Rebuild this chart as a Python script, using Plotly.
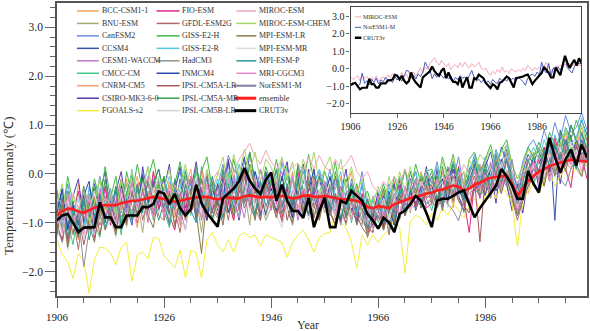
import plotly.graph_objects as go

years = list(range(1906, 2006))

# ---------------- data (one row per decade, 1906-2005) ----------------
bcc_csm1_1 = [
    -0.30,-1.20,-0.55,-1.05,-0.20,-0.95,-0.45,-1.30,-0.60,-0.15,
    -0.95,-0.25,-0.80,-0.10,-0.65,-1.10,-0.30,-0.70,0.05,-0.50,
    -0.85,-0.15,-0.60,-1.05,-0.30,0.10,-0.75,-0.40,-0.95,-0.20,
    -0.70,0.05,-0.50,-0.95,-0.15,-0.60,0.20,-0.35,-0.80,-0.10,
    -0.60,-0.05,-0.85,-0.30,-1.00,-0.20,0.15,-0.55,-0.25,-0.75,
    -0.15,-0.80,-0.40,-1.00,-0.30,0.05,-0.95,-0.55,-1.15,-0.45,
    -0.90,-0.35,-1.05,-0.60,-0.10,-0.80,-0.25,-0.70,-0.30,0.00,
    -0.65,0.10,-0.45,-0.05,-0.70,0.15,-0.50,-0.20,0.20,-0.35,
    0.25,-0.40,0.10,-0.30,0.40,-0.25,-0.70,-0.05,0.30,0.45,
    -0.10,0.55,0.15,0.70,0.05,0.85,0.30,0.60,0.95,0.40]
bnu_esm = [
    -1.25,-0.50,-1.40,-0.85,-0.35,-1.10,-0.70,-1.35,-0.40,-0.95,
    -0.40,-1.15,-0.70,-0.20,-0.90,-0.55,-1.20,-0.35,-0.75,-0.10,
    -0.95,-0.40,-1.10,-0.60,-0.05,-0.80,-0.45,-1.20,-0.30,-0.70,
    -0.20,-0.90,-0.40,0.10,-0.75,-0.30,-1.05,-0.15,-0.60,-0.95,
    -0.70,-0.25,-1.00,-0.45,0.05,-0.85,-0.40,-0.10,-0.90,-0.35,
    -0.80,-0.30,-0.05,-0.75,-1.05,-0.40,-0.70,-1.00,-0.55,-1.20,
    -0.45,-1.10,-0.70,-0.25,-0.95,-0.30,-0.80,-0.10,-0.65,-0.40,
    -0.05,-0.70,-0.35,0.10,-0.60,-0.20,0.05,-0.75,-0.30,0.15,
    -0.45,0.20,-0.30,0.30,-0.20,-0.60,-0.15,-0.50,0.15,-0.25,
    0.40,-0.15,0.50,0.00,0.65,0.20,0.75,0.10,-0.05,0.55]
canesm2 = [
    -0.40,-0.95,-0.20,-0.75,-0.50,-1.10,-0.30,-0.65,-0.05,-0.55,
    -0.30,-0.80,-0.15,-0.60,0.00,-0.90,-0.35,-0.70,-0.10,-0.45,
    -0.10,-0.65,-0.30,0.05,-0.55,-0.20,-0.80,0.15,-0.40,-0.70,
    -0.25,0.20,-0.55,-0.05,-0.70,0.30,-0.30,-0.60,0.10,-0.40,
    -0.05,-0.60,0.25,-0.30,-0.75,-0.10,0.20,-0.50,-0.20,0.05,
    -0.35,0.10,-0.60,-0.25,-0.85,-0.10,-0.50,0.05,-0.70,-0.95,
    -0.40,-0.85,-0.20,-0.65,-0.30,0.10,-0.55,-0.15,-0.70,0.05,
    -0.20,0.25,-0.40,0.15,-0.15,0.35,-0.30,0.00,0.40,-0.10,
    0.35,-0.05,0.50,0.20,0.60,0.05,-0.30,0.25,0.55,0.70,
    0.45,0.90,0.55,1.05,0.70,1.20,0.85,0.95,1.25,0.90]
ccsm4 = [
    -0.80,-0.30,-1.10,-0.55,-1.25,-0.45,-0.90,-0.20,-0.70,-1.00,
    -0.45,-0.95,-0.15,-0.65,-1.05,-0.35,0.00,-0.75,-0.25,-0.60,
    -0.05,-0.80,-0.35,0.15,-0.70,-0.30,-0.95,-0.10,-0.60,-0.25,
    -0.75,-0.20,0.25,-0.60,-0.10,0.35,-0.45,-0.20,-0.85,0.00,
    -0.40,0.10,-0.70,-0.30,-0.90,-0.15,0.20,-0.60,-0.25,-0.85,
    -0.20,-0.70,-0.05,-0.55,-0.95,-0.30,-0.75,-0.20,-1.00,-0.65,
    -0.50,-1.05,-0.35,-0.80,-0.15,-0.65,-0.25,0.05,-0.60,-0.20,
    0.05,-0.55,-0.15,-0.40,0.25,-0.25,-0.60,0.10,0.30,-0.20,
    0.15,0.45,-0.05,0.55,0.25,-0.20,-0.55,0.05,0.40,0.20,
    0.55,0.25,0.75,-0.95,0.90,0.60,1.00,0.70,1.10,0.80]
cesm1_waccm = [
    -1.05,-1.40,-0.65,-1.20,-0.85,-0.35,-1.10,-0.55,-0.95,-0.30,
    -0.90,-0.40,-1.15,-0.60,-0.20,-0.85,-0.35,-1.00,-0.15,-0.70,
    -0.55,-1.00,-0.30,-0.75,-1.15,-0.40,-0.10,-0.70,0.05,-0.60,
    -0.85,-0.30,-0.65,-0.05,-0.50,-0.90,-0.20,-0.60,0.10,-0.45,
    -0.75,-0.25,0.05,-0.65,-0.35,-0.95,-0.50,-0.15,-0.70,0.00,
    -0.45,-0.85,-0.20,-0.10,-0.70,-0.35,-0.95,-0.50,-0.65,-1.10,
    -0.85,-0.40,-1.00,-0.75,-0.25,-0.65,-0.45,-0.10,-0.40,-0.60,
    -0.50,-0.10,-0.55,-0.25,0.10,-0.45,-0.65,-0.05,-0.35,0.20,
    -0.25,0.25,-0.15,-0.40,0.35,-0.35,-0.70,-0.45,-0.20,0.25,
    -0.15,0.50,0.10,0.65,0.20,0.70,0.35,0.55,0.85,0.25]
cmcc_cm = [
    -1.20,-0.45,-0.95,-1.45,-0.70,-1.10,-0.40,-1.00,-1.30,-0.50,
    -1.05,-0.65,-1.25,-0.35,-0.90,-0.20,-0.70,-0.45,-0.95,-0.05,
    -0.75,-1.10,-0.40,-0.95,-0.25,-0.85,0.05,-0.65,-0.30,-0.90,
    -0.55,-0.95,0.00,-0.60,-0.85,-0.25,-0.50,-0.80,-0.15,-0.75,
    -0.45,-0.80,-0.30,0.15,-0.70,-0.35,-0.90,-0.15,-0.55,-0.80,
    -0.35,-0.10,-0.75,-0.90,-0.25,-1.00,-0.45,-0.75,-1.20,-0.50,
    -1.00,-0.55,-0.85,-1.20,-0.35,-0.75,-0.20,-0.60,-0.05,-0.50,
    -0.75,-0.30,0.05,-0.55,-0.10,-0.40,-0.80,-0.20,0.10,-0.45,
    -0.30,0.10,-0.35,0.25,-0.10,-0.50,-0.85,-0.30,0.05,-0.20,
    0.05,0.35,-0.15,0.55,0.20,0.40,0.70,0.10,0.60,0.30]
cnrm_cm5 = [
    -0.85,-1.15,-0.45,-0.95,-1.35,-0.60,-1.05,-0.30,-0.90,-0.55,
    -0.60,-1.05,-0.25,-0.80,-0.45,-0.05,-0.75,-0.40,-0.90,-0.20,
    -0.65,-0.15,-0.90,-0.55,-0.05,-0.80,-0.40,0.10,-0.70,-0.35,
    -0.30,-0.80,-0.45,-0.90,-0.15,-0.55,0.15,-0.70,-0.40,-0.05,
    -0.50,-0.90,-0.20,-0.60,0.00,-0.70,-0.35,-0.80,0.10,-0.55,
    -0.75,-0.20,-0.60,-0.05,-0.70,-0.90,-0.25,-0.80,-0.95,-0.45,
    -0.85,-0.30,-0.70,-0.15,-0.90,-0.35,-0.75,-0.45,0.05,-0.50,
    -0.20,-0.60,0.05,-0.45,0.10,-0.35,-0.10,-0.60,-0.25,0.15,
    0.10,-0.35,0.30,-0.15,0.05,-0.10,-0.65,-0.20,-0.40,0.20,
    0.30,-0.05,0.45,0.15,0.60,0.25,0.10,0.75,0.35,0.50]
csiro_mk3_6_0 = [
    -0.80,-0.30,-1.15,-0.45,-0.10,-1.00,-0.55,-1.25,-0.40,0.05,
    -0.85,-0.35,0.05,-0.70,-0.20,-0.90,0.15,-0.55,-0.15,-0.75,
    -0.30,0.20,-0.70,-0.10,-0.85,-0.35,0.25,-0.55,-0.05,-0.80,
    -0.20,-0.65,0.30,-0.35,0.00,-0.60,0.45,-0.15,-0.50,0.05,
    -0.30,-0.80,-0.10,0.25,-0.65,-0.20,-0.85,0.10,-0.45,-0.05,
    -0.70,-0.20,-0.95,-0.40,0.10,-0.75,-0.35,-1.05,-0.50,-0.90,
    -0.35,-1.10,-0.60,-0.20,-0.90,-0.45,-0.10,-0.75,-0.40,0.15,
    -0.55,0.10,-0.65,-0.15,0.25,-0.45,-0.75,0.05,-0.35,-0.15,
    -0.45,0.15,-0.60,0.30,-0.25,-0.75,-0.20,-0.80,-0.10,0.35,
    -0.30,0.45,-0.10,0.60,-0.20,0.50,0.80,0.15,0.70,0.35]
fgoals_s2 = [
    -1.36,-1.65,-1.80,-2.14,-1.63,-1.80,-2.44,-1.75,-1.50,-1.52,
    -1.62,-1.86,-1.50,-1.40,-2.20,-1.66,-1.60,-1.74,-1.30,-1.32,
    -1.68,-1.80,-1.92,-1.56,-2.13,-1.56,-1.62,-2.13,-1.36,-1.20,
    -1.45,-1.60,-1.35,-1.60,-1.28,-1.20,-1.30,-1.25,-1.48,-1.25,
    -1.30,-1.35,-1.40,-1.71,-1.40,-1.25,-1.15,-1.35,-1.60,-1.30,
    -1.22,-1.20,-0.78,-1.00,-1.10,-1.40,-1.93,-1.25,-1.46,-1.25,
    -1.40,-1.25,-1.15,-0.95,-1.10,-2.03,-0.98,-0.85,-0.90,-1.05,
    -0.80,-0.95,-0.70,-0.85,-0.60,-0.75,-0.90,-0.65,-0.50,-0.70,
    -0.45,-0.30,-0.50,-0.25,-0.40,-0.60,-1.49,-0.55,-0.35,-0.20,
    -0.40,-0.15,0.05,-0.25,-0.05,0.10,-0.10,0.15,0.05,0.20]
fio_esm = [
    -1.10,-0.50,-1.35,-0.85,-0.35,-1.15,-0.60,-1.30,-0.75,-0.25,
    -1.05,-0.55,-0.10,-0.85,-0.40,-1.00,-0.25,-0.80,0.05,-0.70,
    -0.35,-0.85,-1.15,-0.40,-0.80,-0.05,-0.65,-0.30,-0.95,-0.15,
    -0.75,-0.05,-0.55,-0.95,-0.25,0.10,-0.70,-0.40,-0.15,-0.80,
    -0.15,-0.60,-0.95,-0.25,-0.70,0.05,-0.45,-0.85,-0.20,-0.65,
    -0.20,-0.80,-0.45,-1.00,-0.35,-0.70,-0.95,-0.40,-1.10,-1.20,
    -0.55,-0.95,-0.45,-1.05,-0.20,-0.75,-0.35,-0.60,-0.10,-0.70,
    -0.60,-0.05,-0.40,0.10,-0.45,0.15,-0.55,-1.20,-0.15,-0.50,
    0.05,-0.40,0.25,-0.25,0.35,-0.05,-0.45,-0.15,0.30,-0.10,
    0.30,0.55,0.05,0.75,0.30,0.10,-0.28,0.60,0.35,-0.10]
gfdl_esm2g = [
    -1.20,-0.60,-1.45,-0.90,-1.55,-0.70,-1.15,-0.45,-1.05,-0.65,
    -0.60,-1.20,-0.35,-1.00,-0.55,-0.20,-0.95,-0.50,-0.30,-0.85,
    -0.95,-0.40,-0.75,-1.20,-0.30,-0.80,-0.50,-0.10,-0.85,-0.45,
    -0.85,-0.40,-0.95,-0.25,-0.75,-0.05,-0.65,-0.90,-0.35,-0.15,
    -0.70,-0.30,-0.95,-0.50,-0.10,-0.80,-0.40,-0.05,-0.90,-0.45,
    -0.30,-0.75,-1.05,-0.40,-0.85,-0.55,-0.45,-0.95,-1.15,-0.70,
    -0.95,-0.50,-1.25,-0.70,-0.40,-0.85,-0.35,-0.15,-0.70,-0.30,
    -0.30,-0.70,-0.10,-0.60,-0.05,-0.55,-0.75,-0.25,0.05,-0.30,
    -0.10,-0.45,0.15,-0.35,-0.05,-0.50,-0.95,-0.55,-0.25,-0.05,
    0.10,0.35,-0.15,0.45,0.00,0.55,0.20,0.60,0.25,0.45]
giss_e2_h = [
    -0.35,-0.85,-0.05,-0.60,-1.00,-0.25,-0.70,-0.10,-0.55,0.15,
    -0.50,-0.05,-0.80,0.05,-0.45,0.20,-0.35,-0.10,0.30,-0.30,
    -0.05,-0.55,-0.20,0.25,-0.40,-0.15,-0.65,0.05,0.35,-0.30,
    -0.45,0.10,-0.30,0.30,-0.20,0.05,0.45,-0.25,-0.50,0.15,
    -0.20,0.30,-0.35,-0.05,-0.55,0.20,-0.20,0.40,-0.15,-0.40,
    0.05,-0.30,0.25,-0.45,-0.10,-0.55,-0.20,-0.65,-0.35,-0.75,
    -0.55,-0.20,-0.65,-0.05,-0.45,0.10,-0.35,0.20,-0.20,0.05,
    0.10,-0.25,0.35,-0.05,0.40,-0.15,-0.35,0.30,0.45,0.05,
    0.30,0.60,0.15,0.50,0.70,0.20,-0.10,0.15,0.55,0.35,
    0.65,0.40,0.85,0.60,0.35,0.95,0.70,1.10,0.80,0.55]
giss_e2_r = [
    -0.55,-1.05,-0.35,-0.80,-0.45,-1.15,-0.25,-0.75,-0.10,-0.65,
    -0.35,-0.85,-0.15,-0.55,0.10,-0.75,-0.30,0.15,-0.50,-0.10,
    -0.40,-0.05,-0.70,-0.30,0.10,-0.60,-0.15,-0.80,-0.05,-0.45,
    -0.10,-0.55,0.05,-0.40,0.20,-0.30,-0.60,0.05,-0.25,-0.05,
    -0.50,-0.05,-0.35,-0.70,-0.10,-0.45,0.15,-0.60,-0.20,0.10,
    -0.20,-0.65,-0.30,0.05,-0.70,-0.35,-0.80,-0.15,-0.95,-0.50,
    -0.35,-0.80,-0.25,-0.60,-0.05,-0.55,-0.15,0.05,-0.50,0.10,
    -0.15,0.15,-0.45,-0.05,0.25,-0.20,-0.50,0.05,0.35,0.00,
    0.20,-0.15,0.45,0.10,0.35,-0.05,-0.40,-0.15,0.25,0.55,
    0.30,0.70,0.40,0.80,0.50,0.95,0.60,0.75,1.15,0.65]
hadcm3 = [
    -1.10,-1.40,-0.75,-1.25,-0.85,-1.90,-1.15,-0.60,-1.00,-0.45,
    -0.85,-1.20,-0.50,-1.05,-0.35,-0.85,-0.25,-0.80,-0.55,-0.15,
    -0.75,-1.05,-0.45,-0.90,-0.25,-0.70,-0.40,-0.95,-0.30,-0.75,
    -0.90,-0.35,-0.80,-0.15,-0.55,-0.45,0.00,-0.70,-0.95,-0.25,
    -0.55,-0.90,-0.20,-0.70,-1.05,-0.35,0.05,-0.65,-0.45,-0.90,
    -0.40,-0.85,-0.55,-1.05,-0.35,-0.80,-0.50,-0.95,-1.15,-0.70,
    -0.95,-0.60,-1.20,-0.55,-0.85,-0.25,-0.60,-0.15,-0.50,-0.20,
    -0.55,-0.20,-0.70,-0.05,-0.45,0.05,-0.50,-0.25,0.15,-0.30,
    -0.05,-0.40,0.15,-0.30,0.05,-0.35,-0.80,-0.45,-0.15,0.10,
    0.10,-0.25,0.35,0.05,0.45,0.15,0.55,0.25,0.65,0.40]
inmcm4 = [
    -0.80,-0.30,-1.15,-0.65,-1.05,-0.45,-0.15,-0.95,-0.40,-0.85,
    -0.55,-1.00,-0.25,-0.80,-0.35,-0.75,-0.05,-0.60,-0.20,0.10,
    -0.50,-0.90,-0.15,-0.75,-0.35,-0.65,-0.05,-0.55,-0.95,-0.30,
    -0.65,-0.10,-0.80,-0.45,-0.95,-0.25,-0.60,0.05,-0.40,-0.85,
    -0.30,-0.75,-0.05,-0.55,-0.90,-0.15,-0.60,-0.35,0.10,-0.75,
    -0.45,-0.05,-0.70,-0.95,-0.30,-0.65,-1.00,-0.55,-0.85,-1.05,
    -0.80,-0.45,-0.70,-1.05,-0.50,-0.85,-0.35,-0.65,-0.25,-0.15,
    -0.25,-0.60,-0.10,-0.55,0.10,-0.35,-0.50,-0.15,0.20,-0.40,
    -0.20,0.15,-0.35,0.25,-0.10,-0.40,-0.85,-0.45,-0.15,0.10,
    0.20,0.45,0.05,0.50,0.25,0.60,0.30,0.70,0.40,0.55]
ipsl_cm5a_lr = [
    -1.05,-1.35,-0.60,-1.20,-0.80,-1.45,-0.95,-0.50,-1.25,-0.70,
    -0.65,-1.15,-0.40,-0.95,-0.25,-0.80,-0.60,-0.15,-0.85,-0.45,
    -0.70,-1.00,-0.30,-0.85,-0.55,-0.10,-0.90,-0.45,-0.05,-0.75,
    -0.55,-0.90,-0.20,-0.75,-0.40,0.05,-0.65,-0.35,-0.95,-0.15,
    -0.50,-0.80,-0.25,-0.95,-0.55,-0.15,-0.75,-0.30,-0.45,-0.90,
    -0.30,-0.80,-0.45,-0.70,-1.00,-0.50,-0.85,-1.10,-1.25,-0.80,
    -0.70,-1.15,-0.75,-0.45,-0.90,-0.40,-0.25,-0.70,-0.15,-0.50,
    -0.40,-0.10,-0.60,0.05,-0.20,-0.55,-0.65,-0.80,-0.15,-1.39,
    -0.05,0.15,-0.30,0.10,-0.10,-0.45,-0.75,-0.25,-0.05,0.20,
    0.05,0.40,-0.05,0.50,0.20,0.65,0.30,0.55,0.20,0.75]
ipsl_cm5a_mr = [
    -0.60,-1.15,-0.35,-0.90,-1.30,-0.50,-1.05,-0.30,-0.80,-0.10,
    -0.75,-0.25,-1.00,-0.40,0.00,-0.80,-0.10,-0.65,-0.20,0.10,
    -0.45,-0.85,-0.10,-0.65,0.05,-0.55,0.15,-0.35,-0.80,-0.15,
    -0.60,0.05,-0.40,-0.85,-0.15,-0.55,0.20,-0.30,-0.75,-0.05,
    -0.25,0.10,-0.65,-0.20,-0.60,0.15,-0.35,-0.80,-0.05,-0.50,
    -0.15,-0.65,0.05,-0.45,-0.85,-0.20,-0.60,-0.90,-0.50,-0.95,
    -0.65,-0.30,-0.95,-0.45,-0.10,-0.55,0.05,-0.40,0.00,-0.25,
    -0.05,-0.55,0.15,-0.35,0.20,-0.15,-0.45,0.00,0.25,-0.20,
    0.20,-0.25,0.40,-0.05,0.50,-0.15,-0.55,-0.20,0.25,0.40,
    0.45,0.15,0.70,0.35,0.85,0.40,1.00,0.65,0.50,0.85]
ipsl_cm5b_lr = [
    -1.30,-0.80,-1.55,-1.05,-0.65,-1.35,-0.90,-1.25,-0.70,-1.15,
    -0.95,-1.30,-0.60,-1.10,-0.45,-0.95,-0.40,-0.85,-0.30,-0.80,
    -0.70,-1.05,-0.40,-0.90,-1.15,-0.55,-0.25,-0.85,-0.35,-1.00,
    -0.65,-0.95,-0.30,-0.80,-0.50,-0.20,-0.75,-0.40,-0.65,-0.90,
    -0.55,-0.85,-1.10,-0.60,-0.30,-0.80,-0.45,-0.95,-0.60,-0.35,
    -0.75,-0.40,-0.90,-0.55,-0.95,-0.65,-0.45,-1.05,-0.80,-1.15,
    -0.95,-0.60,-0.90,-0.50,-0.85,-0.35,-0.75,-0.30,-0.55,-0.25,
    -0.60,-0.35,-0.15,-0.70,-0.10,-0.45,-0.60,-0.25,-0.05,-0.40,
    -0.20,-0.45,0.00,-0.35,0.10,-0.40,-0.85,-0.50,-0.20,0.00,
    -0.05,0.25,-0.10,0.35,0.05,0.40,0.15,0.50,0.20,0.35]
miroc_esm = [
    -0.48,-0.62,-0.55,-0.40,-0.70,-0.37,-0.58,-0.45,-0.67,-0.50,
    -0.62,-0.42,-0.75,-0.55,-0.48,-0.60,-0.35,-0.52,-0.28,-0.45,
    -0.35,-0.55,-0.22,-0.48,-0.30,-0.62,-0.40,-0.20,-0.45,-0.15,
    0.05,-0.25,0.10,-0.05,0.30,0.45,0.63,0.35,0.20,0.48,
    0.25,0.10,0.30,-0.05,0.15,0.22,0.05,0.35,0.10,0.38,
    0.15,0.05,0.30,0.10,0.20,0.38,0.05,-0.10,0.05,-0.25,
    -0.38,-0.15,-0.30,-0.05,-0.22,0.10,-0.20,-0.10,-0.25,0.00,
    -0.12,-0.20,-0.05,-0.15,0.02,-0.10,0.19,0.00,-0.12,0.05,
    -0.05,0.10,-0.08,0.15,0.38,0.05,-0.20,0.00,0.15,0.08,
    0.20,0.05,0.28,0.10,0.30,0.15,0.25,0.32,0.20,0.18]
miroc_esm_chem = [
    -0.60,-0.20,-0.95,-0.45,-0.80,-0.25,-1.05,-0.55,-0.10,-0.85,
    -0.40,-0.85,-0.10,-0.60,0.05,-0.50,-0.30,0.15,-0.55,-0.05,
    -0.30,0.10,-0.55,-0.20,0.20,-0.45,-0.05,-0.65,0.10,-0.35,
    0.00,0.35,-0.25,0.40,-0.05,0.50,0.05,0.45,-0.15,0.30,
    0.15,-0.25,0.35,-0.10,0.25,-0.35,0.30,-0.05,0.45,-0.20,
    0.10,0.35,-0.15,0.30,-0.30,0.15,-0.40,-0.10,-0.50,-0.65,
    -0.25,-0.70,-0.05,-0.50,0.05,-0.35,0.15,-0.30,0.00,-0.15,
    0.05,-0.30,0.25,-0.10,0.35,-0.05,-0.20,0.30,0.05,0.40,
    0.25,0.50,0.10,0.45,0.60,0.20,-0.10,0.15,0.50,0.30,
    0.55,0.30,0.75,0.45,0.65,0.90,0.50,0.70,1.00,0.60]
mpi_esm_lr = [
    -1.25,-0.65,-1.50,-0.90,-1.30,-0.55,-1.05,-1.40,-0.70,-1.15,
    -0.80,-1.25,-0.50,-1.05,-0.35,-0.90,-0.30,-0.85,-1.10,-0.40,
    -0.80,-0.35,-1.05,-0.55,-0.95,-0.35,-0.80,-1.63,-0.45,-0.95,
    -0.55,-1.05,-0.35,-0.85,-0.20,-0.70,-0.40,-0.95,-0.25,-0.80,
    -0.50,-0.90,-0.25,-0.70,-1.00,-0.35,-0.80,-0.20,-0.65,-0.95,
    -0.45,-0.80,-1.05,-0.45,-0.90,-0.55,-1.05,-0.70,-1.30,-0.95,
    -0.85,-1.15,-0.55,-1.00,-0.40,-0.85,-0.60,-0.30,-0.70,-0.25,
    -0.60,-0.25,-0.75,-0.15,-0.55,-0.05,-0.60,-0.30,-0.05,-0.45,
    -0.15,-0.50,0.05,-0.40,0.05,-0.45,-0.85,-0.55,-0.25,-0.05,
    0.10,-0.25,0.30,-0.05,0.40,0.05,0.50,0.20,-0.05,0.40]
mpi_esm_mr = [
    -0.85,-1.25,-0.55,-1.05,-0.45,-1.20,-0.75,-0.35,-1.00,-0.60,
    -0.70,-1.05,-0.40,-0.90,-0.25,-0.75,-0.20,-0.70,-0.35,-0.05,
    -0.60,-0.90,-0.30,-0.75,-0.10,-0.55,-0.05,-0.80,-0.30,-0.65,
    -0.45,-0.80,-0.20,-0.65,-0.15,-0.50,0.05,-0.70,-0.25,-0.75,
    -0.35,-0.70,-0.15,-0.80,-0.25,-0.55,0.00,-0.75,-0.50,-0.20,
    -0.50,-0.15,-0.70,-0.85,-0.30,-0.70,-0.45,-0.90,-1.00,-0.60,
    -0.85,-0.50,-0.95,-0.55,-0.30,-0.75,-0.20,-0.55,-0.15,-0.40,
    -0.40,-0.10,-0.55,0.05,-0.35,0.05,-0.40,-0.15,0.10,-0.20,
    -0.10,0.15,-0.30,0.25,-0.05,-0.35,-0.70,-0.40,-0.05,0.20,
    0.20,-0.05,0.40,0.20,0.55,0.25,0.65,0.35,0.50,0.70]
mpi_esm_p = [
    -1.00,-0.45,-1.30,-0.70,-1.15,-0.50,-1.35,-0.85,-0.35,-1.10,
    -0.75,-0.30,-1.10,-0.50,-0.95,-0.25,-0.80,-0.15,-0.55,-0.95,
    -0.60,-1.05,-0.30,-0.85,-0.20,-0.75,-1.00,-0.35,-0.65,-0.05,
    -0.55,-0.90,-0.20,-0.70,-0.05,-0.60,-0.35,-0.85,-0.15,-0.65,
    -0.45,-0.15,-0.80,-0.35,-0.70,-0.10,-0.55,-0.85,-0.30,-0.05,
    -0.30,-0.75,-0.40,-0.90,-0.55,-0.20,-0.85,-0.50,-1.10,-0.80,
    -0.55,-1.00,-0.45,-0.90,-0.30,-0.75,-0.40,-0.10,-0.65,-0.05,
    -0.45,-0.05,-0.60,0.00,-0.40,0.10,-0.55,-0.20,0.15,-0.25,
    0.10,-0.35,0.25,-0.20,0.30,-0.25,-0.60,-0.40,0.05,0.35,
    0.05,0.50,0.15,0.60,0.30,0.70,0.35,0.10,0.85,0.45]
mri_cgcm3 = [
    -0.60,-1.20,-0.40,-1.00,-0.75,-1.25,-0.45,-1.05,-0.30,-0.90,
    -0.45,-1.00,-0.30,-0.85,-0.15,-0.70,-0.40,-0.05,-0.90,-0.35,
    -0.85,-0.25,-0.70,-1.00,-0.40,-0.05,-0.60,-0.90,-0.20,-0.70,
    -0.30,-0.80,-0.10,-0.55,-0.90,-0.20,-0.60,-0.05,-0.75,-0.35,
    -0.65,-0.15,-0.75,-0.45,-0.05,-0.80,-0.30,-0.60,-0.10,-0.70,
    -0.15,-0.55,-0.85,-0.30,-0.70,-0.95,-0.35,-0.80,-1.00,-1.10,
    -0.45,-0.90,-0.70,-0.40,-0.85,-0.25,-0.70,-0.10,-0.55,-0.15,
    -0.55,-0.10,-0.40,0.00,-0.50,0.05,-0.20,-0.60,0.10,-0.30,
    -0.05,-0.45,0.15,-0.25,0.05,-0.25,-0.75,-0.40,-0.05,0.25,
    -0.05,0.35,-0.15,0.50,0.15,0.60,0.20,0.45,0.05,0.55]
noresm1_m = [
    -0.85,-0.95,-0.78,-1.00,-0.90,-0.25,-0.85,-0.70,-0.92,-0.60,
    -0.80,-0.55,-0.88,-0.65,-0.75,-0.50,-0.70,-0.62,-0.80,-0.45,
    -0.65,-0.50,-0.72,-0.40,-0.10,-0.15,-0.55,-0.38,-0.60,-0.30,
    -0.45,-0.20,0.38,0.10,-0.05,-0.58,-0.30,-0.50,-0.25,-0.40,
    -0.55,-0.35,-0.60,-0.42,-0.72,-0.50,-0.65,-0.40,-0.55,-0.48,
    -0.62,-0.38,-0.10,-0.50,-0.72,-0.60,-0.80,-0.65,-0.85,-0.70,
    -0.90,-0.62,-0.78,-0.85,-0.55,-0.70,-0.60,-0.72,-0.50,-0.62,
    -0.55,-0.70,-0.48,-0.62,-0.75,-0.96,-0.55,-0.40,-0.30,-0.45,
    -0.20,-0.35,0.38,-0.10,-0.25,0.30,-0.40,0.05,-0.15,0.10,
    -0.10,0.25,0.67,0.05,-0.10,-0.25,0.10,0.35,0.28,0.30]
ensemble = [
    -0.85,-0.76,-0.71,-0.72,-0.77,-0.80,-0.74,-0.69,-0.66,-0.64,
    -0.64,-0.64,-0.60,-0.57,-0.55,-0.55,-0.52,-0.50,-0.47,-0.49,
    -0.52,-0.55,-0.57,-0.55,-0.52,-0.50,-0.48,-0.47,-0.47,-0.50,
    -0.52,-0.50,-0.48,-0.50,-0.50,-0.46,-0.44,-0.46,-0.48,-0.47,
    -0.48,-0.46,-0.45,-0.47,-0.50,-0.48,-0.45,-0.44,-0.47,-0.47,
    -0.45,-0.47,-0.50,-0.52,-0.52,-0.53,-0.55,-0.60,-0.68,-0.70,
    -0.66,-0.68,-0.70,-0.62,-0.58,-0.55,-0.50,-0.46,-0.44,-0.40,
    -0.38,-0.34,-0.32,-0.28,-0.24,-0.26,-0.34,-0.30,-0.22,-0.18,
    -0.12,-0.08,-0.06,-0.05,-0.04,-0.20,-0.45,-0.30,-0.15,-0.04,
    0.04,0.10,0.16,0.20,0.23,0.26,0.29,0.28,0.26,0.25]
crut3v = [
    -0.95,-0.85,-0.82,-1.00,-1.19,-1.10,-1.09,-1.09,-0.58,-0.89,
    -0.89,-1.09,-1.09,-0.85,-0.85,-0.85,-0.68,-0.68,-0.62,-0.36,
    -0.40,-0.62,-0.41,-0.70,-0.85,-0.72,-0.22,-0.60,-0.80,-0.95,
    -1.08,-0.50,-0.40,-0.30,-0.15,0.12,-0.14,-0.30,-0.41,-0.12,
    0.03,-0.55,-0.22,-0.55,-0.76,-0.76,-0.90,-0.49,-1.09,-0.76,
    -0.49,-1.09,-1.09,-0.55,-0.60,-0.35,-0.45,-0.55,-0.82,-0.95,
    -1.12,-0.90,-0.99,-1.19,-0.82,-0.75,-0.62,-0.45,-0.55,-0.80,
    -1.09,-0.55,-0.51,-0.51,-0.45,-0.38,-0.34,-0.60,-0.89,-0.70,
    -0.55,-0.40,-0.24,0.10,-0.05,-0.24,-0.51,-0.51,0.06,-0.20,
    -0.38,0.20,0.74,0.35,0.03,0.30,0.50,0.17,0.60,0.33]

model_names = ["BCC-CSM1-1", "BNU-ESM", "CanESM2", "CCSM4", "CESM1-WACCM", "CMCC-CM",
               "CNRM-CM5", "CSIRO-MK3-6-0", "FGOALS-s2", "FIO-ESM", "GFDL-ESM2G",
               "GISS-E2-H", "GISS-E2-R", "HadCM3", "INMCM4", "IPSL-CM5A-LR",
               "IPSL-CM5A-MR", "IPSL-CM5B-LR", "MIROC-ESM", "MIROC-ESM-CHEM",
               "MPI-ESM-LR", "MPI-ESM-MR", "MPI-ESM-P", "MRI-CGCM3", "NorESM1-M"]
model_values = [bcc_csm1_1, bnu_esm, canesm2, ccsm4, cesm1_waccm, cmcc_cm, cnrm_cm5,
                csiro_mk3_6_0, fgoals_s2, fio_esm, gfdl_esm2g, giss_e2_h, giss_e2_r,
                hadcm3, inmcm4, ipsl_cm5a_lr, ipsl_cm5a_mr, ipsl_cm5b_lr, miroc_esm,
                miroc_esm_chem, mpi_esm_lr, mpi_esm_mr, mpi_esm_p, mri_cgcm3, noresm1_m]
model_colors = ["#F7A35C", "#A8A878", "#6A8FE0", "#3A55B0", "#C878C8", "#3CC88A",
                "#F8A070", "#5A3CB0", "#F2EE3C", "#E0288C", "#B46A6A", "#40B848",
                "#58C8E0", "#909090", "#2848A8", "#A8585A", "#3CA058", "#D4D4D4",
                "#F4A8B8", "#A8D868", "#887848", "#DCDCE8", "#2E9898", "#E888C8",
                "#8888A8"]

tick_years = [1906, 1926, 1946, 1966, 1986]
y_tickvals = [-2, -1, 0, 1, 2, 3]
y_ticktext = ["\u22122.0", "\u22121.0", "0.0", "1.0", "2.0", "3.0"]

# ---------------- figure ----------------
W, H = 590, 331
ML, MR, MT, MB = 57, 1, 1, 35
PW, PH = W - ML - MR, H - MT - MB

def fx(px):
    return (px - ML) / PW

def fy(py):
    return 1 - (py - MT) / PH

SERIF = "Liberation Serif, Times New Roman, serif"

fig = go.Figure()
for name, vals, col in zip(model_names, model_values, model_colors):
    fig.add_trace(go.Scatter(x=years, y=vals, mode="lines", name=name,
                             line=dict(color=col, width=1), showlegend=False,
                             hoverinfo="skip"))
fig.add_trace(go.Scatter(x=years, y=ensemble, mode="lines", name="ensemble",
                         line=dict(color="#FF1E1E", width=2.6), showlegend=False))
fig.add_trace(go.Scatter(x=years, y=crut3v, mode="lines", name="CRUT3v",
                         line=dict(color="#000000", width=2.6), showlegend=False))

# inset
fig.add_trace(go.Scatter(x=years, y=miroc_esm, mode="lines", xaxis="x2", yaxis="y2",
                         line=dict(color="#F4A8B8", width=1), showlegend=False))
fig.add_trace(go.Scatter(x=years, y=noresm1_m, mode="lines", xaxis="x2", yaxis="y2",
                         line=dict(color="#4A5AB8", width=1), showlegend=False))
fig.add_trace(go.Scatter(x=years, y=crut3v, mode="lines", xaxis="x2", yaxis="y2",
                         line=dict(color="#000000", width=2.2), showlegend=False))

axis_common = dict(showgrid=False, zeroline=False, showline=True, mirror=True,
                   ticks="outside", tickcolor="#666666")

fig.update_layout(
    width=W, height=H, margin=dict(l=ML, r=MR, t=MT, b=MB),
    paper_bgcolor="white", plot_bgcolor="white", showlegend=False,
    xaxis=dict(domain=[0, 1], range=[1906, 2005], tickvals=tick_years,
               ticklen=10, tickwidth=1, linecolor="#555555", linewidth=1.5,
               tickfont=dict(family=SERIF, size=11, color="#222222"),
               minor=dict(tick0=1906, dtick=5, ticklen=5, ticks="outside",
                          tickcolor="#666666"),
               **axis_common),
    yaxis=dict(domain=[0, 1], range=[-2.5, 3.5], tickvals=y_tickvals,
               ticktext=y_ticktext, ticklen=10, tickwidth=1,
               linecolor="#555555", linewidth=1.5,
               tickfont=dict(family=SERIF, size=11.5, color="#222222"),
               minor=dict(tick0=0, dtick=0.2, ticklen=5, ticks="outside",
                          tickcolor="#666666"),
               **axis_common),
    xaxis2=dict(domain=[fx(351.7), fx(583.3)], anchor="y2", range=[1906, 2005],
                tickvals=tick_years, ticklen=4, linecolor="#444444", linewidth=1.2,
                tickfont=dict(family=SERIF, size=10, color="#222222"),
                **axis_common),
    yaxis2=dict(domain=[fy(111.7), fy(5)], anchor="x2", range=[-2.55, 3.55],
                tickvals=y_tickvals, ticktext=y_ticktext, ticklen=3,
                linecolor="#444444", linewidth=1.2,
                tickfont=dict(family=SERIF, size=10, color="#222222"),
                **axis_common),
)

# ---------------- hand-drawn legend (compact, 3 columns) ----------------
legend_cols = [
    (["BCC-CSM1-1", "BNU-ESM", "CanESM2", "CCSM4", "CESM1-WACCM", "CMCC-CM",
      "CNRM-CM5", "CSIRO-MK3-6-0", "FGOALS-s2"], 77, 99, 101),
    (["FIO-ESM", "GFDL-ESM2G", "GISS-E2-H", "GISS-E2-R", "HadCM3", "INMCM4",
      "IPSL-CM5A-LR", "IPSL-CM5A-MR", "IPSL-CM5B-LR"], 157, 180, 181),
    (["MIROC-ESM", "MIROC-ESM-CHEM", "MPI-ESM-LR", "MPI-ESM-MR", "MPI-ESM-P",
      "MRI-CGCM3", "NorESM1-M", "ensemble", "CRUT3v"], 237, 257, 259),
]
color_of = dict(zip(model_names, model_colors))
color_of["ensemble"] = "#FF1E1E"
color_of["CRUT3v"] = "#000000"
width_of = {"ensemble": 3, "CRUT3v": 3, "NorESM1-M": 2.2}

shapes = []
annots = []
for names, x0, x1, xt in legend_cols:
    for i, nm in enumerate(names):
        yy = 9 + 12.55 * i
        lx0 = x0 - 2 if nm in ("ensemble", "CRUT3v", "NorESM1-M") else x0
        shapes.append(dict(type="line", xref="paper", yref="paper",
                           x0=fx(lx0), x1=fx(x1), y0=fy(yy), y1=fy(yy),
                           line=dict(color=color_of[nm], width=width_of.get(nm, 1.5))))
        annots.append(dict(x=fx(xt), y=fy(yy), xref="paper", yref="paper",
                           text=nm, showarrow=False, xanchor="left", yanchor="middle",
                           borderpad=0,
                           font=dict(family=SERIF, size=8, color="#333333")))

# inset legend
inset_items = [("MIROC-ESM", "#F4A8B8", 1), ("NorESM1-M", "#4A5AB8", 1),
               ("CRUT3v", "#000000", 2.5)]
for i, (nm, col, wd) in enumerate(inset_items):
    yy = 15 + 10.5 * i
    shapes.append(dict(type="line", xref="paper", yref="paper",
                       x0=fx(356), x1=fx(362.5), y0=fy(yy), y1=fy(yy),
                       line=dict(color=col, width=wd)))
    annots.append(dict(x=fx(363.5), y=fy(yy), xref="paper", yref="paper", text=nm,
                       showarrow=False, xanchor="left", yanchor="middle", borderpad=0,
                       font=dict(family=SERIF, size=6, color="#333333")))

# axis titles
annots.append(dict(x=fx(9), y=fy(185), xref="paper", yref="paper",
                   text="Temperature anomaly (\u2103)", textangle=-90, showarrow=False,
                   xanchor="center", yanchor="middle",
                   font=dict(family=SERIF, size=13, color="#333333")))
annots.append(dict(x=fx(309), y=fy(325), xref="paper", yref="paper", text="Year",
                   showarrow=False, xanchor="center", yanchor="middle",
                   font=dict(family=SERIF, size=12, color="#333333")))

fig.update_layout(shapes=shapes, annotations=annots)

fig.write_html("out.html")
